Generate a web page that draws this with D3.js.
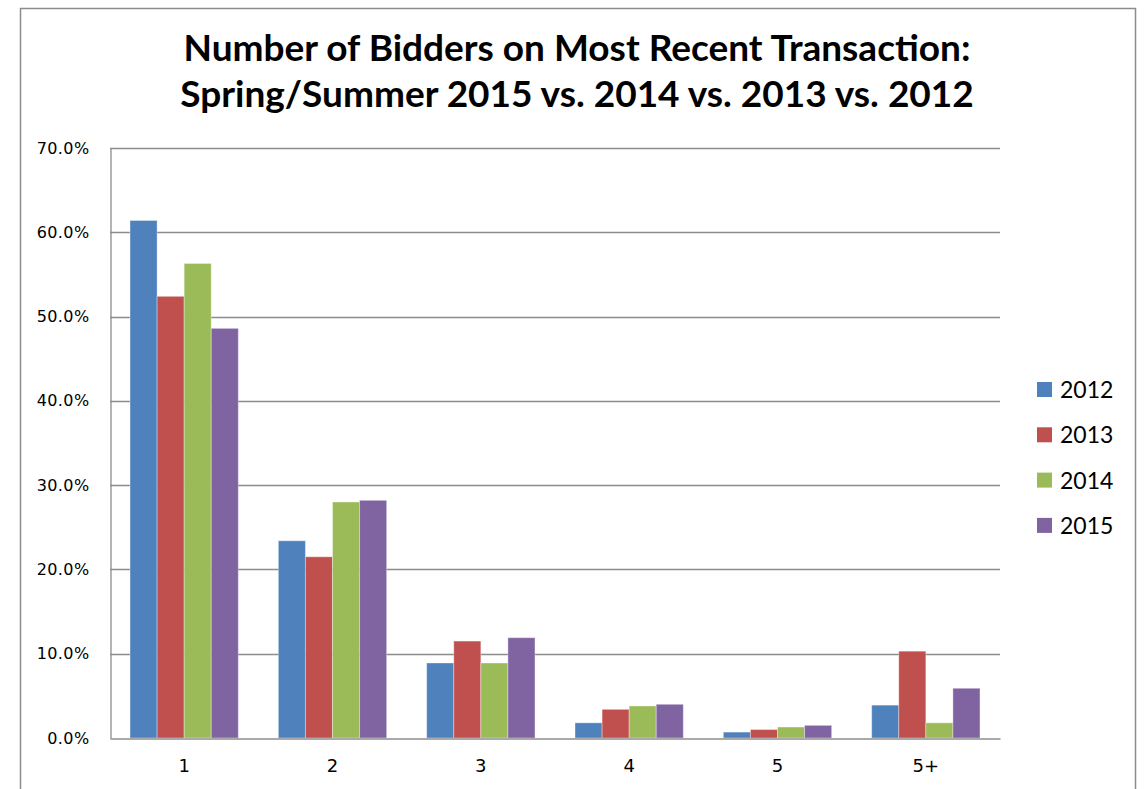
<!DOCTYPE html>
<html>
<head>
<meta charset="utf-8">
<script src="https://cdn.jsdelivr.net/npm/d3@7"></script>
<style>
  body { margin: 0; background: #fff; }
  svg { display: block; }
</style>
</head>
<body>
<div id="chart"></div>
<script>
// data
var categories = ['1', '2', '3', '4', '5', '5+'];
var seriesNames = ['2012', '2013', '2014', '2015'];
var values2012 = [61.4, 23.4, 8.9, 1.8, 0.7, 3.9];
var values2013 = [52.4, 21.5, 11.5, 3.4, 1.0, 10.3];
var values2014 = [56.3, 28.0, 8.9, 3.8, 1.3, 1.8];
var values2015 = [48.6, 28.2, 11.9, 4.0, 1.5, 5.9];
var yTicks = [0, 10, 20, 30, 40, 50, 60, 70];
var colors = ['#4F81BD', '#C0504D', '#9BBB59', '#8064A2'];
var titleLines = ['Number of Bidders on Most Recent Transaction:', 'Spring/Summer 2015 vs. 2014 vs. 2013 vs. 2012'];

var allValues = [values2012, values2013, values2014, values2015];

var W = 1147, H = 789;
var plot = { left: 110, right: 1000, top: 148, bottom: 738 };

var svg = d3.select('#chart').append('svg')
    .attr('width', W)
    .attr('height', H);

// outer chart frame
svg.append('rect')
    .attr('x', 20.5).attr('y', 8.5)
    .attr('width', 1115).attr('height', 800)
    .attr('fill', 'none')
    .attr('stroke', '#8c8c8c')
    .attr('stroke-width', 1.5);

// title
svg.append('g').selectAll('text')
    .data(titleLines)
    .enter().append('text')
    .attr('x', 577)
    .attr('y', function(d, i) { return 61 + i * 46; })
    .attr('text-anchor', 'middle')
    .style('font-family', 'Lato, "Open Sans", sans-serif')
    .style('font-weight', 'bold')
    .style('font-size', '37px')
    .style('fill', '#000')
    .text(function(d) { return d; });

var y = d3.scaleLinear().domain([0, 70]).range([plot.bottom, plot.top]);
var x0 = d3.scaleBand().domain(categories).range([plot.left, plot.right])
    .paddingInner(0.27).paddingOuter(0.135);
var x1 = d3.scaleBand().domain(seriesNames).range([0, x0.bandwidth()]);

// gridlines
svg.append('g').selectAll('line')
    .data(yTicks.slice(1))
    .enter().append('line')
    .attr('x1', plot.left).attr('x2', plot.right)
    .attr('y1', function(d) { return Math.round(y(d)) + 0.5; })
    .attr('y2', function(d) { return Math.round(y(d)) + 0.5; })
    .attr('stroke', '#8c8c8c')
    .attr('stroke-width', 1.3);

// y axis
var yAxis = d3.axisLeft(y).tickValues(yTicks)
    .tickFormat(function(d) { return d.toFixed(1) + '%'; })
    .tickSize(0).tickPadding(21);
var yg = svg.append('g')
    .attr('transform', 'translate(' + (plot.left + 0.5) + ',0)')
    .call(yAxis);
yg.select('.domain').attr('stroke', '#8c8c8c').attr('stroke-width', 1.3);
yg.selectAll('text')
    .style('font-family', '"DejaVu Sans", Verdana, sans-serif')
    .style('font-size', '16px')
    .style('letter-spacing', '0.4px')
    .style('fill', '#000');

// bars
var groups = svg.append('g').selectAll('g')
    .data(categories)
    .enter().append('g')
    .attr('transform', function(d) { return 'translate(' + x0(d) + ',0)'; });

groups.selectAll('rect')
    .data(function(c, ci) {
        return seriesNames.map(function(s, si) { return { s: s, si: si, v: allValues[si][ci] }; });
    })
    .enter().append('rect')
    .attr('x', function(d) { return x1(d.s); })
    .attr('width', x1.bandwidth())
    .attr('y', function(d) { return y(d.v); })
    .attr('height', function(d) { return plot.bottom - y(d.v); })
    .attr('fill', function(d) { return colors[d.si]; })
    .attr('stroke', 'rgba(255,255,255,0.35)')
    .attr('stroke-width', 1);

// x axis
var xAxis = d3.axisBottom(x0).tickSize(0).tickPadding(21);
var xg = svg.append('g')
    .attr('transform', 'translate(0,' + (plot.bottom + 0.5) + ')')
    .call(xAxis);
xg.select('.domain').attr('stroke', '#8c8c8c').attr('stroke-width', 1.5);
xg.selectAll('text')
    .style('font-family', '"DejaVu Sans", Verdana, sans-serif')
    .style('font-size', '18px')
    .style('fill', '#000');

// legend
var legend = svg.append('g').selectAll('g')
    .data(seriesNames)
    .enter().append('g')
    .attr('transform', function(d, i) { return 'translate(1037,' + (389 + i * 45.3) + ')'; });
legend.append('rect')
    .attr('x', 0).attr('y', -7)
    .attr('width', 15).attr('height', 15)
    .attr('fill', function(d, i) { return colors[i]; });
legend.append('text')
    .attr('x', 23).attr('y', 9)
    .style('font-family', 'Lato, "Open Sans", sans-serif')
    .style('font-size', '23px')
    .style('fill', '#000')
    .text(function(d) { return d; });
</script>
</body>
</html>
